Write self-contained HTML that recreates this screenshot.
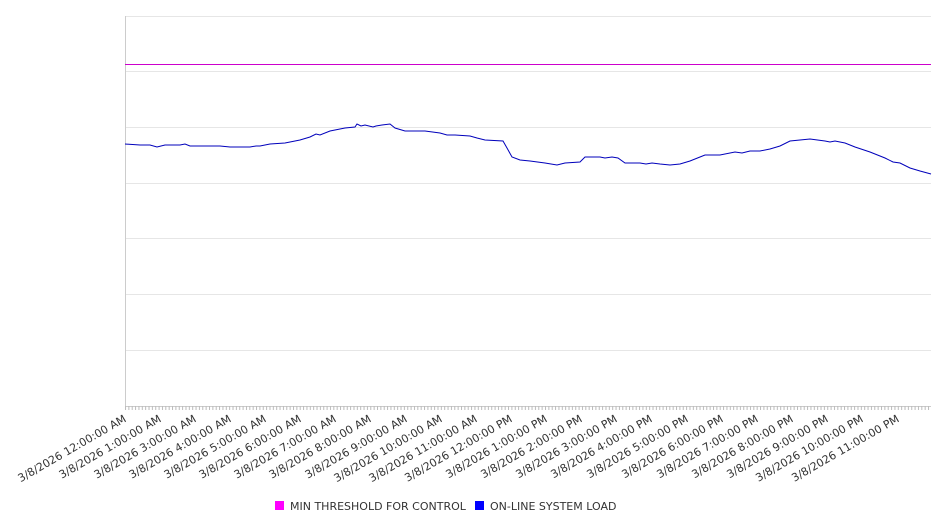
<!DOCTYPE html>
<html><head><style>body{margin:0;background:#fff}svg{display:block}</style></head><body>
<svg width="946" height="526" xmlns="http://www.w3.org/2000/svg" font-family="DejaVu Sans, sans-serif">
<defs><pattern id="tk" x="125" y="406" width="3.36" height="5" patternUnits="userSpaceOnUse"><line x1="0.5" y1="0" x2="0.5" y2="4" stroke="#bbb" stroke-width="1"/></pattern></defs>
<g stroke="#e6e6e6" stroke-width="1">
<line x1="125" y1="16.5" x2="931" y2="16.5"/><line x1="125" y1="71.5" x2="931" y2="71.5"/><line x1="125" y1="127.5" x2="931" y2="127.5"/><line x1="125" y1="183.5" x2="931" y2="183.5"/><line x1="125" y1="238.5" x2="931" y2="238.5"/><line x1="125" y1="294.5" x2="931" y2="294.5"/><line x1="125" y1="350.5" x2="931" y2="350.5"/>
</g>
<line x1="125.5" y1="16" x2="125.5" y2="407" stroke="#ccc"/>
<line x1="125" y1="406.5" x2="931" y2="406.5" stroke="#ccc"/>
<rect x="125" y="406" width="806" height="4" fill="url(#tk)"/>
<line x1="125" y1="64.5" x2="931" y2="64.5" stroke="#cc00cc" stroke-width="1"/>
<polyline fill="none" stroke="#0000bb" stroke-width="1" points="125,144 140,145 150,145 157,147 165,145 180,145 185,144 190,146 200,146 210,146 220,146 230,147 250,147 256,146 260,146 270,144 285,143 295,141 300,140 310,137 316,134 320,135 330,131 345,128 355,127 357,124 361,126 365,125 373,127 376,126 382,125 390,124 395,128 405,131 415,131 425,131 440,133 447,135 455,135 470,136 477,138 485,140 503,141 507,148 512,157 520,160 530,161 545,163 557,165 565,163 580,162 585,157 600,157 605,158 612,157 618,158 625,163 640,163 646,164 652,163 660,164 670,165 680,164 690,161 700,157 705,155 710,155 720,155 735,152 742,153 750,151 760,151 770,149 780,146 790,141 800,140 810,139 825,141 830,142 835,141 845,143 855,147 870,152 885,158 893,162 900,163 910,168 920,171 931,174"/>
<g font-size="11" fill="#333" text-anchor="end">
<text transform="translate(127,421) rotate(-30)">3/8/2026 12:00:00 AM</text>
<text transform="translate(162,421) rotate(-30)">3/8/2026 1:00:00 AM</text>
<text transform="translate(197,421) rotate(-30)">3/8/2026 3:00:00 AM</text>
<text transform="translate(232,421) rotate(-30)">3/8/2026 4:00:00 AM</text>
<text transform="translate(267,421) rotate(-30)">3/8/2026 5:00:00 AM</text>
<text transform="translate(302,421) rotate(-30)">3/8/2026 6:00:00 AM</text>
<text transform="translate(337,421) rotate(-30)">3/8/2026 7:00:00 AM</text>
<text transform="translate(372,421) rotate(-30)">3/8/2026 8:00:00 AM</text>
<text transform="translate(408,421) rotate(-30)">3/8/2026 9:00:00 AM</text>
<text transform="translate(443,421) rotate(-30)">3/8/2026 10:00:00 AM</text>
<text transform="translate(478,421) rotate(-30)">3/8/2026 11:00:00 AM</text>
<text transform="translate(513,421) rotate(-30)">3/8/2026 12:00:00 PM</text>
<text transform="translate(548,421) rotate(-30)">3/8/2026 1:00:00 PM</text>
<text transform="translate(583,421) rotate(-30)">3/8/2026 2:00:00 PM</text>
<text transform="translate(618,421) rotate(-30)">3/8/2026 3:00:00 PM</text>
<text transform="translate(653,421) rotate(-30)">3/8/2026 4:00:00 PM</text>
<text transform="translate(689,421) rotate(-30)">3/8/2026 5:00:00 PM</text>
<text transform="translate(724,421) rotate(-30)">3/8/2026 6:00:00 PM</text>
<text transform="translate(759,421) rotate(-30)">3/8/2026 7:00:00 PM</text>
<text transform="translate(794,421) rotate(-30)">3/8/2026 8:00:00 PM</text>
<text transform="translate(829,421) rotate(-30)">3/8/2026 9:00:00 PM</text>
<text transform="translate(864,421) rotate(-30)">3/8/2026 10:00:00 PM</text>
<text transform="translate(900,421) rotate(-30)">3/8/2026 11:00:00 PM</text>
</g>
<rect x="275" y="501" width="9" height="9" fill="#ff00ff"/>
<text x="290" y="510" font-size="11" fill="#333">MIN THRESHOLD FOR CONTROL</text>
<rect x="475" y="501" width="9" height="9" fill="#0000ff"/>
<text x="490" y="510" font-size="11" fill="#333">ON-LINE SYSTEM LOAD</text>
</svg>
</body></html>
